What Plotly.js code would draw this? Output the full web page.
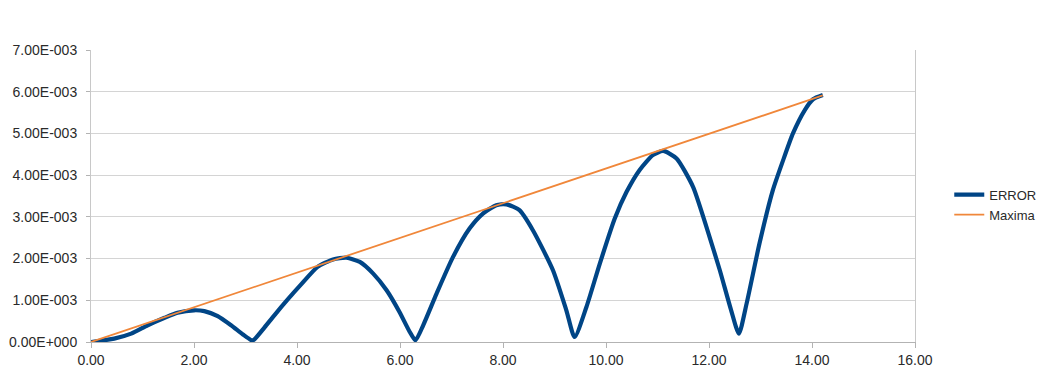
<!DOCTYPE html>
<html>
<head>
<meta charset="utf-8">
<script src="https://cdn.plot.ly/plotly-3.0.1.min.js"></script>
<style>
html,body{margin:0;padding:0;background:#fff;}
#chart{width:1042px;height:390px;}
</style>
</head>
<body>
<div id="chart"></div>
<script>
// ERROR series (x, value)
const errorX = [0.00,0.45,0.78,1.10,1.43,1.68,2.00,2.20,2.46,2.72,2.95,3.12,3.17,3.37,3.56,3.82,4.08,4.40,4.70,4.96,5.22,5.48,5.74,5.99,6.19,6.30,6.45,6.71,7.03,7.35,7.61,7.87,8.07,8.32,8.58,8.97,9.23,9.39,9.62,9.88,10.17,10.40,10.65,10.91,11.11,11.37,11.69,11.95,12.21,12.43,12.58,12.73,12.98,13.24,13.44,13.63,13.86,14.02,14.21];
const errorY = [0.00000,0.00008,0.00020,0.00040,0.00058,0.00070,0.00076,0.00074,0.00062,0.00040,0.00018,0.00004,0.00006,0.00035,0.00064,0.00102,0.00138,0.00180,0.00198,0.00202,0.00192,0.00164,0.00124,0.00072,0.00024,0.00004,0.00040,0.00116,0.00204,0.00272,0.00308,0.00328,0.00330,0.00316,0.00268,0.00172,0.00076,0.00012,0.00084,0.00188,0.00296,0.00360,0.00412,0.00448,0.00458,0.00440,0.00372,0.00276,0.00172,0.00076,0.00020,0.00092,0.00236,0.00364,0.00436,0.00500,0.00556,0.00582,0.00592];
// Maxima series
const maximaX = [0.00, 14.21];
const maximaY = [0.00000, 0.00591];
// axis ticks
const yTickVals = [0, 0.001, 0.002, 0.003, 0.004, 0.005, 0.006, 0.007];
const yTickText = ["0.00E+000","1.00E-003","2.00E-003","3.00E-003","4.00E-003","5.00E-003","6.00E-003","7.00E-003"];
const xTickVals = [0,2,4,6,8,10,12,14,16];
const xTickText = ["0.00","2.00","4.00","6.00","8.00","10.00","12.00","14.00","16.00"];

const FONT = "Liberation Sans, Arial, sans-serif";
const traces = [
  {x: errorX, y: errorY, name: "ERROR", type: "scatter", mode: "lines",
   line: {color: "#004586", width: 4.2, shape: "spline", smoothing: 0.6}},
  {x: maximaX, y: maximaY, name: "Maxima", type: "scatter", mode: "lines",
   line: {color: "#f0873a", width: 1.8}}
];
const layout = {
  width: 1042, height: 390,
  margin: {l: 91, r: 127, t: 50, b: 48},
  paper_bgcolor: "#fff", plot_bgcolor: "#fff",
  font: {family: FONT, size: 13, color: "#2a2a2a"},
  showlegend: true,
  legend: {xref: "container", x: 0.911, xanchor: "left", yref: "container", y: 0.475, yanchor: "middle",
           font: {family: FONT, size: 13, color: "#2a2a2a"}, bgcolor: "rgba(0,0,0,0)",
           tracegroupgap: 0, itemwidth: 30},
  xaxis: {range: [0, 16], tickvals: xTickVals, ticktext: xTickText,
          showgrid: false, zeroline: false, showline: true, linecolor: "#b3b3b3", linewidth: 1,
          ticks: "outside", ticklen: 5, tickcolor: "#b3b3b3",
          tickfont: {family: FONT, size: 14, color: "#2a2a2a"}, fixedrange: true},
  yaxis: {range: [0, 0.007], tickvals: yTickVals, ticktext: yTickText,
          showgrid: true, gridcolor: "#d4d4d4", gridwidth: 1, zeroline: false,
          showline: true, mirror: true, linecolor: "#c8c8c8", linewidth: 1,
          ticks: "outside", ticklen: 4, tickcolor: "#b3b3b3", ticklabelstandoff: 6,
          tickfont: {family: FONT, size: 14, color: "#2a2a2a"}, fixedrange: true}
};
Plotly.newPlot("chart", traces, layout, {displayModeBar: false, staticPlot: true});
</script>
</body>
</html>
